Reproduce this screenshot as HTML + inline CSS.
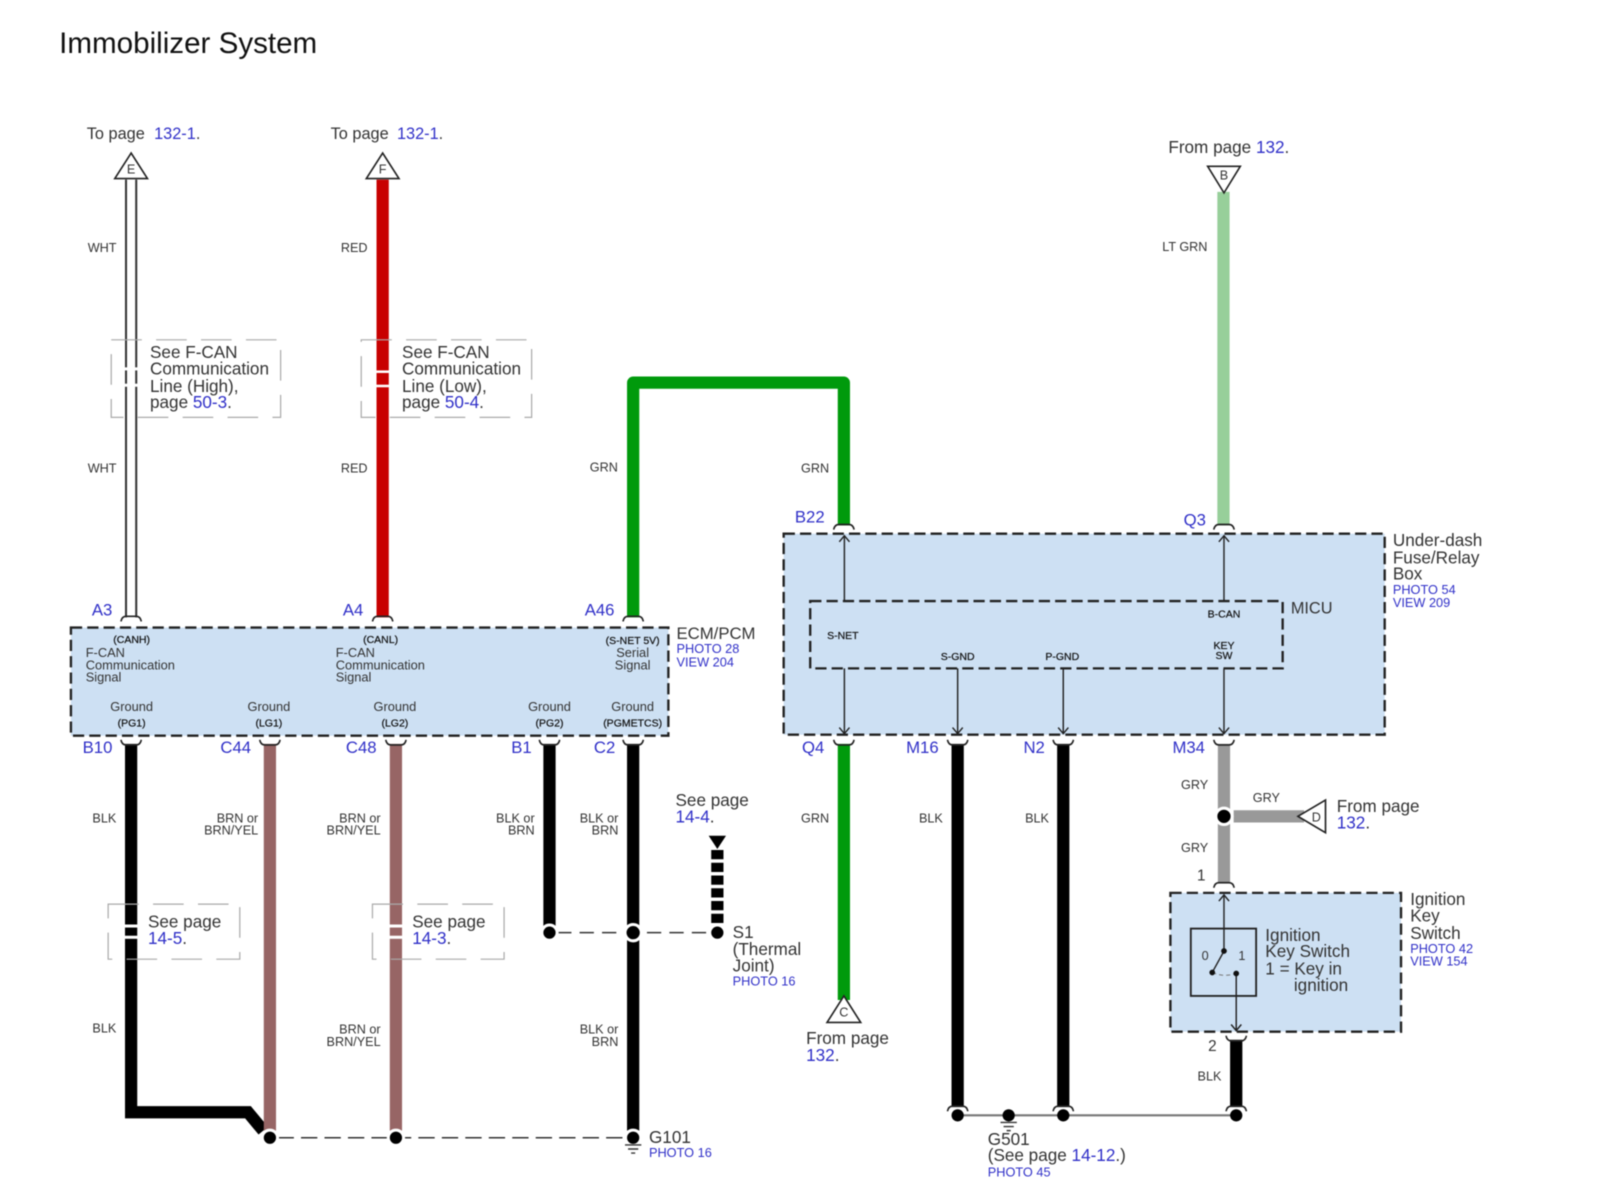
<!DOCTYPE html>
<html><head><meta charset="utf-8"><title>Immobilizer System</title>
<style>
html,body{margin:0;padding:0;background:#fff;width:1600px;height:1189px;overflow:hidden}
svg{display:block;filter:blur(.45px)}
text{font-family:"Liberation Sans",sans-serif;fill:#333;font-size:16.8px}
.b{fill:#3030c8}
tspan.b{fill:#3030c8}
.s{font-size:12.4px}
.p{font-size:12.5px;fill:#3030c8}
.c{font-size:16.4px;fill:#3030c8}
.t{font-size:10.3px;fill:#111;stroke:#111;stroke-width:.2}
.m{text-anchor:middle}
.r{text-anchor:end}
.w{fill:none;stroke-width:12}
.box{fill:#cde0f3;stroke:#222;stroke-width:2.3;stroke-dasharray:11 5}
.note{fill:none;stroke:#aaa;stroke-width:1.2;stroke-dasharray:30 14}
.thin{fill:none;stroke:#222;stroke-width:1.4}
.halo{fill:#000;stroke:#fff;stroke-width:3}
</style></head><body>
<svg xmlns="http://www.w3.org/2000/svg" width="1600" height="1189" viewBox="0 0 1568 1165.2">
<defs>
<path id="top" d="M-10 4Q-9 -1 -5 -1H5Q9 -1 10 4" fill="none" stroke="#222" stroke-width="1.6"/>
<path id="bot" d="M-10 -3Q-9 2 -5 2H5Q9 2 10 -3" fill="none" stroke="#222" stroke-width="1.6"/>
<path id="up" d="M-5 6L0 0L5 6" fill="none" stroke="#222" stroke-width="1.4"/>
<path id="dn" d="M-5 -6L0 0L5 -6" fill="none" stroke="#222" stroke-width="1.4"/>
<g id="gnd" stroke="#333" fill="none" stroke-width="1.4"><path d="M-8 0H8M-5 4H5M-2 8H2"/></g>
</defs>

<text x="58" y="52" style="font-size:29px;fill:#111">Immobilizer System</text>

<text x="85" y="136" style="font-size:16px">To page</text><text x="151" y="136" style="font-size:16px"><tspan class="b">132-1</tspan>.</text>
<text x="324" y="136" style="font-size:16px">To page</text><text x="389" y="136" style="font-size:16px"><tspan class="b">132-1</tspan>.</text>
<text x="1145" y="150" style="font-size:16.8px">From page <tspan class="b">132</tspan>.</text>

<!-- upper wires -->
<path d="M123.5 176V605M133.5 176V605" stroke="#333" stroke-width="2" fill="none"/>
<path d="M375 176V605" class="w" stroke="#c80000"/>
<path d="M620.500 605V375H827V515" class="w" stroke="#009a0c" stroke-linejoin="round"/>
<path d="M1199 188V515" class="w" stroke="#97cf9a"/>

<polygon points="128.500,150 112.500,175 144.500,175" fill="#fff" stroke="#222" stroke-width="1.6"/>
<text x="128.500" y="170" class="s m">E</text>
<polygon points="375,150 359,175 391,175" fill="#fff" stroke="#222" stroke-width="1.6"/>
<text x="375" y="170" class="s m">F</text>
<polygon points="1183.500,163 1215.500,163 1199.500,189" fill="#fff" stroke="#222" stroke-width="1.6"/>
<text x="1199.500" y="176" class="s m">B</text>

<!-- note boxes -->
<rect x="109" y="333" width="166" height="76" class="note"/>
<rect x="354" y="333" width="167" height="76" class="note"/>
<rect x="120" y="360" width="18" height="3" fill="#fff"/><rect x="120" y="376" width="18" height="3" fill="#fff"/>
<rect x="366" y="363" width="18" height="2.500" fill="#fff"/><rect x="366" y="377" width="18" height="2.500" fill="#fff"/>
<rect x="137" y="336" width="130" height="70" fill="#fff"/>
<rect x="383" y="336" width="130" height="70" fill="#fff"/>
<text x="147" y="351">See F-CAN</text><text x="147" y="367">Communication</text><text x="147" y="384">Line (High),</text><text x="147" y="400">page <tspan class="b">50-3</tspan>.</text>
<text x="394" y="351">See F-CAN</text><text x="394" y="367">Communication</text><text x="394" y="384">Line (Low),</text><text x="394" y="400">page <tspan class="b">50-4</tspan>.</text>

<text x="86" y="247" class="s">WHT</text><text x="86" y="463" class="s">WHT</text>
<text x="334" y="247" class="s">RED</text><text x="334" y="463" class="s">RED</text>
<text x="578" y="462" class="s">GRN</text><text x="785" y="463" class="s">GRN</text>
<text x="1139" y="246" class="s">LT GRN</text>

<!-- ECM box -->
<rect x="69.500" y="615" width="585.500" height="106" class="box"/>
<use href="#top" x="128.500" y="605"/><use href="#top" x="375" y="605"/><use href="#top" x="620.500" y="605"/>
<text x="90" y="603" class="c">A3</text><text x="336" y="603" class="c">A4</text><text x="573" y="603" class="c">A46</text>
<text x="129" y="630" class="t m">(CANH)</text><text x="373" y="630" class="t m">(CANL)</text><text x="620" y="631" class="t m">(S-NET 5V)</text>
<text x="84" y="644" style="font-size:12.6px">F-CAN</text><text x="84" y="656" style="font-size:12.6px">Communication</text><text x="84" y="668" style="font-size:12.6px">Signal</text>
<text x="329" y="644" style="font-size:12.6px">F-CAN</text><text x="329" y="656" style="font-size:12.6px">Communication</text><text x="329" y="668" style="font-size:12.6px">Signal</text>
<text x="620" y="644" class="m" style="font-size:12.6px">Serial</text><text x="620" y="656" class="m" style="font-size:12.6px">Signal</text>
<text x="129" y="697" class="m" style="font-size:12.6px">Ground</text><text x="263.500" y="697" class="m" style="font-size:12.6px">Ground</text><text x="387" y="697" class="m" style="font-size:12.6px">Ground</text><text x="538.500" y="697" class="m" style="font-size:12.6px">Ground</text><text x="620" y="697" class="m" style="font-size:12.6px">Ground</text>
<text x="129" y="712" class="t m">(PG1)</text><text x="263.500" y="712" class="t m">(LG1)</text><text x="387" y="712" class="t m">(LG2)</text><text x="538.500" y="712" class="t m">(PG2)</text><text x="620" y="712" class="t m">(PGMETCS)</text>
<text x="663" y="626" style="font-size:16.4px">ECM/PCM</text>
<text x="663" y="640" class="p">PHOTO 28</text><text x="663" y="653" class="p">VIEW 204</text>

<!-- lower ECM wires -->
<text x="81" y="738" class="c">B10</text><text x="216" y="738" class="c">C44</text><text x="339" y="738" class="c">C48</text><text x="501" y="738" class="c">B1</text><text x="582" y="738" class="c">C2</text>
<path d="M128.500 729V1090H243L258 1108" class="w" stroke="#000" stroke-linejoin="miter"/>
<path d="M264.500 729V1108" class="w" stroke="#976565"/>
<path d="M388 729V1108" class="w" stroke="#976565"/>
<path d="M538.500 729V908" class="w" stroke="#000"/>
<path d="M620.500 729V1108" class="w" stroke="#000"/>
<use href="#bot" x="128.500" y="728"/><use href="#bot" x="264.500" y="728"/><use href="#bot" x="388" y="728"/><use href="#bot" x="538.500" y="728"/><use href="#bot" x="620.500" y="728"/>

<path d="M703 833V907" class="w" stroke="#000" stroke-dasharray="9 3.500"/>
<polygon points="694.500,819 711.500,819 703,832" fill="#000"/>

<!-- See page notes -->
<rect x="106" y="886" width="129" height="54" class="note"/>
<rect x="365" y="886" width="129" height="54" class="note"/>
<rect x="120" y="906" width="18" height="3" fill="#fff"/><rect x="120" y="917" width="18" height="3" fill="#fff"/>
<rect x="380" y="906" width="18" height="3" fill="#fff"/><rect x="380" y="917" width="18" height="3" fill="#fff"/>
<rect x="136" y="889" width="90" height="48" fill="#fff"/><rect x="396" y="889" width="90" height="48" fill="#fff"/>
<text x="145" y="909">See page</text><text x="145" y="925" class="b">14-5<tspan style="fill:#333">.</tspan></text>
<text x="404" y="909">See page</text><text x="404" y="925" class="b">14-3<tspan style="fill:#333">.</tspan></text>

<text x="114" y="806" class="s r">BLK</text><text x="114" y="1012" class="s r">BLK</text>
<text x="253" y="806" class="s r">BRN or</text><text x="253" y="818" class="s r">BRN/YEL</text>
<text x="373" y="806" class="s r">BRN or</text><text x="373" y="818" class="s r">BRN/YEL</text>
<text x="373" y="1013" class="s r">BRN or</text><text x="373" y="1025" class="s r">BRN/YEL</text>
<text x="524" y="806" class="s r">BLK or</text><text x="524" y="818" class="s r">BRN</text>
<text x="606" y="806" class="s r">BLK or</text><text x="606" y="818" class="s r">BRN</text>
<text x="606" y="1013" class="s r">BLK or</text><text x="606" y="1025" class="s r">BRN</text>

<path d="M546 914H696" stroke="#333" stroke-width="1.5" stroke-dasharray="14 8"/>
<path d="M272 1115H612" stroke="#333" stroke-width="1.5" stroke-dasharray="16 7"/>
<circle cx="538.500" cy="914" r="7.500" class="halo"/><circle cx="620.500" cy="914" r="8" class="halo"/><circle cx="703" cy="914" r="7.500" class="halo"/>
<circle cx="264.500" cy="1115" r="7.500" class="halo"/><circle cx="388" cy="1115" r="7.500" class="halo"/><circle cx="620.500" cy="1115" r="7.500" class="halo"/>
<use href="#gnd" x="620.500" y="1122"/>

<text x="662" y="790">See page</text><text x="662" y="806" class="b">14-4<tspan style="fill:#333">.</tspan></text>
<text x="718" y="919">S1</text><text x="718" y="936">(Thermal</text><text x="718" y="952">Joint)</text><text x="718" y="966" class="p">PHOTO 16</text>
<text x="636" y="1120">G101</text><text x="636" y="1134" class="p">PHOTO 16</text>

<!-- Under-dash box -->
<rect x="768" y="523" width="589" height="197" class="box"/>
<rect x="794" y="589" width="463" height="66" class="box" style="fill:none"/>
<use href="#top" x="827" y="515"/><use href="#top" x="1199.500" y="515"/>
<text x="779" y="512" class="c">B22</text><text x="1160" y="515" class="c">Q3</text>
<path d="M827.500 525V589M1199.500 525V589M827.500 655V719M938.500 655V719M1042 655V719M1199.500 655V719" class="thin"/>
<use href="#up" x="827.500" y="525"/><use href="#up" x="1199.500" y="525"/>
<use href="#dn" x="827.500" y="719"/><use href="#dn" x="938.500" y="719"/><use href="#dn" x="1042" y="719"/><use href="#dn" x="1199.500" y="719"/>
<text x="826" y="626" class="t m">S-NET</text><text x="938.500" y="647" class="t m">S-GND</text><text x="1041" y="647" class="t m">P-GND</text><text x="1199.500" y="605" class="t m">B-CAN</text><text x="1199.500" y="636" class="t m">KEY</text><text x="1199.500" y="646" class="t m">SW</text>
<text x="1265" y="601" style="font-size:16px">MICU</text>
<text x="1365" y="535">Under-dash</text><text x="1365" y="552">Fuse/Relay</text><text x="1365" y="568">Box</text>
<text x="1365" y="582" class="p">PHOTO 54</text><text x="1365" y="595" class="p">VIEW 209</text>

<text x="786" y="738" class="c">Q4</text><text x="888" y="738" class="c">M16</text><text x="1003" y="738" class="c">N2</text><text x="1149" y="738" class="c">M34</text>
<path d="M827 729V980" class="w" stroke="#009a0c"/>
<path d="M938.500 729V1085" class="w" stroke="#000"/>
<path d="M1042 729V1085" class="w" stroke="#000"/>
<path d="M1199.500 729V866" class="w" stroke="#999"/>
<path d="M1209 800H1278" class="w" stroke="#999"/>
<path d="M1211.500 1019V1085" class="w" stroke="#000"/>
<use href="#bot" x="827" y="728"/><use href="#bot" x="938.500" y="728"/><use href="#bot" x="1042" y="728"/><use href="#bot" x="1199.500" y="728"/><use href="#bot" x="1211.500" y="1018"/>
<use href="#top" x="938.500" y="1085"/><use href="#top" x="1042" y="1085"/><use href="#top" x="1211.500" y="1085"/><use href="#top" x="1199.500" y="866"/>

<polygon points="827,976 810.500,1002 843.500,1002" fill="#fff" stroke="#222" stroke-width="1.6"/>
<text x="827" y="996" class="s m">C</text>
<polygon points="1272,800 1299,784 1299,816" fill="#fff" stroke="#222" stroke-width="1.6"/>
<text x="1290" y="805" class="s m">D</text>
<circle cx="1199.500" cy="800" r="8" class="halo"/>

<text x="912" y="806" class="s r" dx="12">BLK</text><text x="1016" y="806" class="s r" dx="12">BLK</text><text x="785" y="806" class="s">GRN</text>
<text x="1184" y="773" class="s r">GRY</text><text x="1241" y="786" class="s m">GRY</text><text x="1184" y="835" class="s r">GRY</text>
<text x="1310" y="796">From page</text><text x="1310" y="812" class="b">132<tspan style="fill:#333">.</tspan></text>
<text x="790" y="1023">From page</text><text x="790" y="1040" class="b">132<tspan style="fill:#333">.</tspan></text>
<text x="1173" y="863" style="font-size:15px">1</text>
<text x="1184" y="1030" style="font-size:15px">2</text>
<text x="1197" y="1059" class="s r">BLK</text>

<!-- Ignition -->
<rect x="1147" y="875" width="226" height="136" class="box"/>
<rect x="1167" y="910" width="64" height="66" fill="none" stroke="#222" stroke-width="1.8"/>
<path d="M1199.500 877V932L1188 953M1211.500 954V1010" class="thin"/>
<path d="M1188 953Q1200 958 1211 954" fill="none" stroke="#777" stroke-width="1" stroke-dasharray="4 3"/>
<use href="#up" x="1199.500" y="877"/><use href="#dn" x="1211.500" y="1010"/>
<circle cx="1199.500" cy="932" r="2.800" fill="#111"/><circle cx="1188" cy="953" r="2.800" fill="#111"/><circle cx="1211.500" cy="954" r="2.800" fill="#111"/>
<text x="1181" y="941" class="s m">0</text><text x="1217" y="941" class="s m">1</text>
<text x="1240" y="922">Ignition</text><text x="1240" y="938">Key Switch</text><text x="1240" y="955">1 = Key in</text><text x="1268" y="971">ignition</text>
<text x="1382" y="887">Ignition</text><text x="1382" y="903">Key</text><text x="1382" y="920">Switch</text>
<text x="1382" y="934" class="p">PHOTO 42</text><text x="1382" y="946" class="p">VIEW 154</text>

<!-- G501 -->
<path d="M938.500 1093H1211.500" stroke="#777" stroke-width="2"/>
<circle cx="938.500" cy="1093" r="6" fill="#000"/><circle cx="988.500" cy="1093" r="6" fill="#000"/><circle cx="1042" cy="1093" r="6" fill="#000"/><circle cx="1211.500" cy="1093" r="6" fill="#000"/>
<use href="#gnd" x="988.500" y="1100"/>
<text x="968" y="1122">G501</text><text x="968" y="1138">(See page <tspan class="b">14-12</tspan>.)</text><text x="968" y="1153" class="p">PHOTO 45</text>
</svg>
</body></html>
